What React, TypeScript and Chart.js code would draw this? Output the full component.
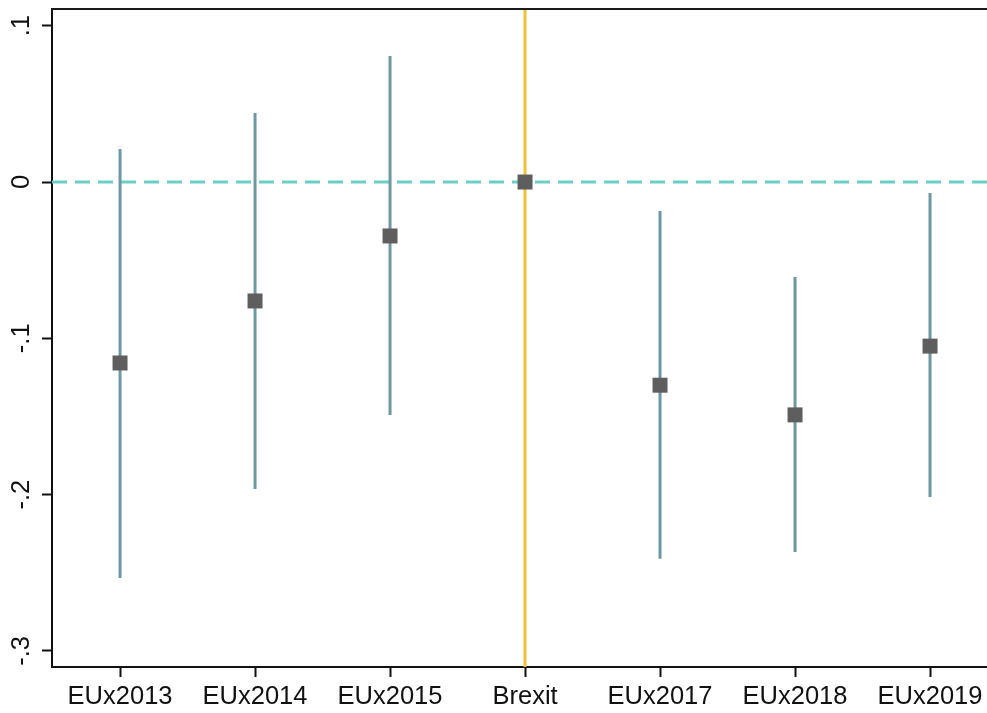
import React, { useEffect, useRef } from "react";
import { Chart, registerables } from "chart.js";

Chart.register(...registerables);

const categories = ["EUx2013", "EUx2014", "EUx2015", "Brexit", "EUx2017", "EUx2018", "EUx2019"];
const estimates = [-0.1158, -0.0761, -0.0345, 0, -0.13, -0.149, -0.105];
const ciLow = [-0.2534, -0.1964, -0.149, 0, -0.241, -0.2367, -0.2015];
const ciHigh = [0.0211, 0.0441, 0.0806, 0, -0.0186, -0.0608, -0.007];
const yTickValues = [-0.3, -0.2, -0.1, 0, 0.1];
const yTickLabels = ["-.3", "-.2", "-.1", "0", ".1"];
const brexitIndex = 3;

const Y_MIN = -0.3103;
const Y_MAX = 0.1107;
const X_MIN = 0.496;
const X_MAX = 7.422;

const FONT = "'Liberation Sans', Arial, sans-serif";

export default function App() {
  const ref = useRef<HTMLCanvasElement | null>(null);

  useEffect(() => {
    if (!ref.current) return;
    const pts = estimates.map((v, i) => ({ x: i + 1, y: v }));
    const bars: any[] = [];
    categories.forEach((_, i) => {
      if (i === brexitIndex) return;
      bars.push({ x: i + 1, y: ciLow[i] });
      bars.push({ x: i + 1, y: ciHigh[i] });
      bars.push({ x: i + 1, y: null });
    });

    const topBorder = {
      id: "topBorder",
      afterDraw(chart: any) {
        const { ctx, chartArea } = chart;
        ctx.save();
        ctx.strokeStyle = "#1a1a1a";
        ctx.lineWidth = 2;
        ctx.beginPath();
        ctx.moveTo(chartArea.left, chartArea.top);
        ctx.lineTo(chartArea.right, chartArea.top);
        ctx.stroke();
        ctx.restore();
      },
    };

    const chart = new Chart(ref.current, {
      type: "scatter",
      data: {
        datasets: [
          {
            label: "estimate",
            data: pts,
            pointStyle: "rect",
            pointRadius: 10.6,
            pointBackgroundColor: "#5e5e5e",
            pointBorderWidth: 0,
            showLine: false,
            order: 0,
          },
          {
            label: "ci",
            data: bars,
            showLine: true,
            spanGaps: false,
            borderColor: "#6e98a0",
            borderWidth: 3,
            pointRadius: 0,
            order: 1,
          },
          {
            label: "brexit",
            data: [
              { x: brexitIndex + 1, y: Y_MIN },
              { x: brexitIndex + 1, y: Y_MAX },
            ],
            showLine: true,
            borderColor: "#f0c038",
            borderWidth: 3,
            pointRadius: 0,
            order: 2,
          },
          {
            label: "zero",
            data: [
              { x: X_MIN, y: 0 },
              { x: X_MAX, y: 0 },
            ],
            showLine: true,
            borderColor: "#6ccfc6",
            borderWidth: 3,
            borderDash: [15, 8],
            pointRadius: 0,
            order: 3,
          },
        ],
      },
      options: {
        animation: false,
        responsive: false,
        devicePixelRatio: 1,
        layout: { autoPadding: false, padding: { top: 9, right: 0, left: 0, bottom: 0 } },
        plugins: { legend: { display: false }, tooltip: { enabled: false } },
        scales: {
          x: {
            type: "linear",
            min: X_MIN,
            max: X_MAX,
            afterBuildTicks: (s: any) => {
              s.ticks = categories.map((_, i) => ({ value: i + 1 }));
            },
            afterFit: (s: any) => {
              s.height = 46;
              s.paddingLeft = 0;
              s.paddingRight = 0;
            },
            ticks: {
              autoSkip: false,
              maxRotation: 0,
              minRotation: 0,
              padding: 5,
              color: "#111",
              font: { family: FONT, size: 25.5 },
              callback: (v: any) => categories[Math.round(v) - 1] ?? "",
            },
            grid: { drawOnChartArea: false, drawTicks: true, tickLength: 10, tickColor: "#111", tickWidth: 2 },
            border: { display: true, color: "#111", width: 2 },
          },
          y: {
            type: "linear",
            min: Y_MIN,
            max: Y_MAX,
            afterBuildTicks: (s: any) => {
              s.ticks = yTickValues.map((v) => ({ value: v }));
            },
            afterFit: (s: any) => {
              s.width = 52;
              s.paddingTop = 0;
              s.paddingBottom = 0;
            },
            ticks: {
              autoSkip: false,
              minRotation: 90,
              maxRotation: 90,
              crossAlign: "center",
              padding: 5,
              color: "#111",
              font: { family: FONT, size: 25.5 },
              callback: (v: any) => {
                const i = yTickValues.findIndex((t) => Math.abs(t - v) < 1e-9);
                return i >= 0 ? yTickLabels[i] : "";
              },
            },
            grid: { drawOnChartArea: false, drawTicks: true, tickLength: 10, tickColor: "#111", tickWidth: 2 },
            border: { display: true, color: "#111", width: 2 },
          },
        },
      },
      plugins: [topBorder],
    });
    return () => chart.destroy();
  }, []);

  return (
    <div style={{ position: "absolute", left: 0, top: 0, width: 987, height: 713, background: "#fff" }}>
      <canvas ref={ref} width={987} height={713} style={{ display: "block" }} />
    </div>
  );
}
